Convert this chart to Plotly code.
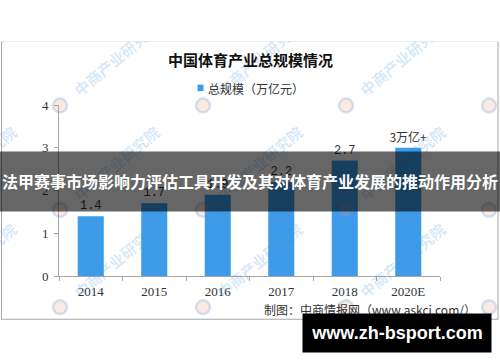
import plotly.graph_objects as go

# ---- data ----
years = ["2014", "2015", "2016", "2017", "2018", "2020E"]
values = [1.4, 1.7, 1.9, 2.2, 2.7, 3.0]
value_labels = ["1.4", "1.7", "1.9", "2.2", "2.7", "3万亿+"]
y_ticks = [0, 1, 2, 3, 4]
title_text = "中国体育产业总规模情况"
legend_text = "总规模（万亿元）"
source_text = "制图：中商情报网（www.askci.com/）"
banner_text = "法甲赛事市场影响力评估工具开发及其对体育产业发展的推动作用分析"
site_text = "www.zh-bsport.com"
watermark_text = "中商产业研究院"

# ---- layout geometry (pixels) ----
W, H = 500, 362
L, R, T, B = 59, 440, 104.5, 276.5


def px(x):
    return (x - L) / (R - L)


def py(y):
    return (B - y) / (B - T)


BAR = "#3d9be9"
TXT = "#333333"
AX = "#a6a6a6"
CJK = "Noto Sans CJK SC"

label_fonts = ["Liberation Mono"] * (len(values) - 1) + [CJK]

fig = go.Figure()
fig.add_trace(go.Bar(
    x=years, y=values,
    marker=dict(color=BAR, line=dict(width=0)),
    text=value_labels, textposition="outside", cliponaxis=False,
    constraintext="none",
    textfont=dict(color=TXT, size=12, family=label_fonts),
    showlegend=False, hoverinfo="skip",
))

shapes = []
annotations = []

# frame
shapes.append(dict(type="rect", xref="paper", yref="paper",
                   x0=px(1.5), x1=px(498), y0=py(40), y1=py(320),
                   line=dict(color=AX, width=1), fillcolor="rgba(0,0,0,0)", layer="below"))

# watermarks (logo circle + rotated text)
wm_cols = [-83, 60, 203, 346, 489]
wm_rows = [105, 210, 308]
for ly in wm_rows:
    for lx in wm_cols:
        shapes.append(dict(type="circle", xref="paper", yref="paper",
                           x0=px(lx - 7), x1=px(lx + 7), y0=py(ly + 7), y1=py(ly - 7),
                           line=dict(color="rgba(70,150,225,0.24)", width=2.5),
                           fillcolor="rgba(240,150,110,0.2)", layer="above"))
        annotations.append(dict(xref="paper", yref="paper", x=px(lx + 56), y=py(ly - 47),
                                text=watermark_text, showarrow=False, textangle=-40,
                                xanchor="center", yanchor="middle",
                                font=dict(family=CJK, size=15, color="rgba(70,150,225,0.22)", weight="bold")))

# white cover above the frame (clips watermarks)
annotations.append(dict(xref="paper", yref="paper", x=px(250), y=py(19.75),
                        text=" ", showarrow=False, width=500, height=39.5,
                        bgcolor="white", borderpad=0, xanchor="center", yanchor="middle"))

# title
annotations.append(dict(xref="paper", yref="paper", x=px(250), y=py(59),
                        text=title_text, showarrow=False, xanchor="center", yanchor="middle",
                        font=dict(family=CJK, size=15, color="#111111", weight="bold")))
# legend
shapes.append(dict(type="rect", xref="paper", yref="paper",
                   x0=px(197.5), x1=px(203.5), y0=py(90.5), y1=py(84),
                   line=dict(width=0), fillcolor=BAR, layer="above"))
annotations.append(dict(xref="paper", yref="paper", x=px(205.5), y=py(87.5),
                        text=legend_text, showarrow=False, xanchor="left", yanchor="middle",
                        font=dict(family=CJK, size=12, color=TXT)))
# source
annotations.append(dict(xref="paper", yref="paper", x=px(478), y=py(310.5),
                        text=source_text, showarrow=False, xanchor="right", yanchor="middle",
                        font=dict(family=CJK, size=12, color=TXT)))

# dark banner across the middle
annotations.append(dict(xref="paper", yref="paper", x=px(250), y=py(181.5),
                        text=banner_text, showarrow=False, width=500, height=58.5,
                        bgcolor="rgba(0,0,0,0.6)", borderpad=0, xanchor="center", yanchor="middle",
                        font=dict(family=CJK, size=16, color="white", weight="bold")))

# bottom site banner
annotations.append(dict(xref="paper", yref="paper", x=px(397), y=py(334),
                        text=site_text, showarrow=False, width=188, height=38,
                        bgcolor="black", borderpad=0, xanchor="center", yanchor="middle",
                        font=dict(family="Liberation Sans", size=18, color="white", weight="bold")))

fig.update_layout(
    width=W, height=H, autosize=False,
    margin=dict(l=L, r=W - R, t=T, b=H - B, pad=0),
    paper_bgcolor="white", plot_bgcolor="white",
    bargap=0.59,
    shapes=shapes, annotations=annotations,
    xaxis=dict(type="category", showline=True, linecolor=AX, linewidth=1,
               ticks="outside", tickson="boundaries", ticklen=4, tickcolor=AX,
               ticklabelstandoff=3,
               showgrid=False, zeroline=False, fixedrange=True,
               tickfont=dict(family="Liberation Serif", size=13, color=TXT)),
    yaxis=dict(range=[0, 4], tickvals=y_ticks, showline=True, linecolor=AX, linewidth=1,
               ticks="outside", ticklen=4, tickcolor=AX, ticklabelstandoff=3,
               showgrid=False, zeroline=False, fixedrange=True,
               tickfont=dict(family="Liberation Serif", size=13, color=TXT)),
)

fig.write_html("out.html")
